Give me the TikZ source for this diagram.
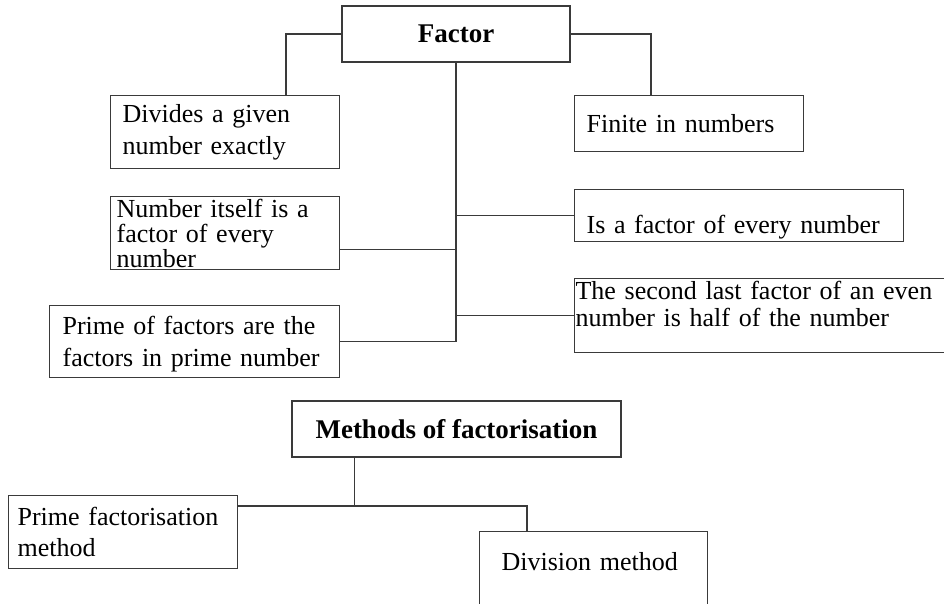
\documentclass[tikz,border=0pt]{standalone}
\usepackage{fontspec}
\setmainfont{Liberation Serif}
\usepackage{xcolor}
\usepackage{tikz}
\usetikzlibrary{positioning}
\definecolor{boxline}{HTML}{3A3A3A}
\newcommand{\leaffont}{\fontsize{26}{32}\selectfont}
\newcommand{\headfont}{\fontsize{27}{32}\selectfont\bfseries}
\tikzset{
  leaf/.style ={draw=boxline,line width=1.2pt,anchor=north west,align=left,
                inner ysep=0pt,font=\leaffont},
  head/.style ={draw=boxline,line width=1.2pt,align=center,inner sep=0pt,
                font=\headfont},
  link/.style ={draw=boxline,line width=1.2pt}
}

\begin{document}
\begin{tikzpicture}[x=1pt,y=-1pt]
    \clip (0,0) rectangle (944,603);
    % --- factor and its properties ---
    \node[head,minimum width=228pt,minimum height=56pt] (factor) at (456,34)
      {Factor};
    \node[leaf,minimum height=73pt,inner xsep=12pt,text width=205pt] (divides) at (110,95)
      {Divides a given\\number exactly};
    \node[leaf,minimum height=56pt,inner xsep=12pt,text width=205pt] (finite) at (574,95)
      {Finite in numbers};
    \node[leaf,minimum height=73pt,inner xsep=6pt,text width=217pt,
          font=\fontsize{26}{25}\selectfont] (itself) at (110,196)
      {Number itself is a\\factor of every\\number};
    \node[leaf,minimum height=52pt,inner xsep=12pt,text width=305pt,
          text height=42pt,text depth=6pt] (every) at (574,189)
      {Is a factor of every number};
    \node[leaf,minimum height=74pt,inner xsep=1pt,text width=372pt,text depth=51pt,
          font=\fontsize{26}{27}\selectfont] (half) at (574,278)
      {The second last factor of an even\\number is half of the number};
    \node[leaf,minimum height=72pt,inner xsep=13pt,text width=264pt,
          text height=24pt] (primes) at (49,305)
      {Prime of factors are the\\factors in prime number};
    % --- methods ---
    \node[head,minimum width=329pt,minimum height=56pt] (methods) at (456.5,429)
      {Methods of factorisation};
    \node[leaf,minimum height=73pt,inner xsep=9pt,text width=211pt,
          font=\fontsize{26}{31}\selectfont] (primemeth) at (8,495)
      {Prime factorisation\\method};
    \node[leaf,minimum height=100pt,inner xsep=22pt,text width=184pt,
          text depth=41pt] (division) at (479,531)
      {Division method};
    % --- links ---
    \draw[link] (factor.west) -| ([xshift=176pt]divides.north west);
    \draw[link] (factor.east) -| ([xshift=77pt]finite.north west);
    \draw[link] (factor.south) |- (primes.east);   % trunk
    \draw[link] ([yshift=-16pt]itself.east) -| (factor.south);
    \draw[link] (every.west) -| (factor.south);
    \draw[link] (half.west) -| (factor.south);
    \draw[link] ([xshift=63pt]methods.south west) |- ([yshift=-11pt]primemeth.north east);
    \draw[link] ([yshift=-11pt]primemeth.north east) -| ([xshift=48pt]division.north west);
\end{tikzpicture}
\end{document}
